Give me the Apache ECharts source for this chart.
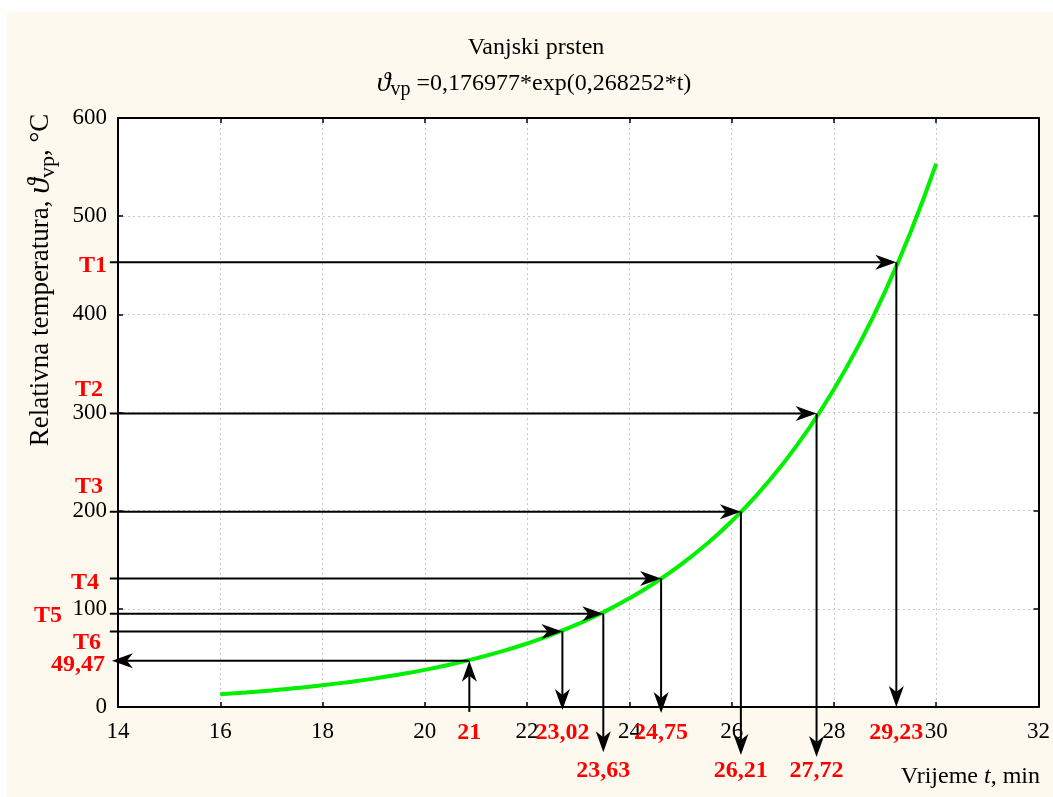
<!DOCTYPE html>
<html>
<head>
<meta charset="utf-8">
<script src="https://cdn.jsdelivr.net/npm/echarts@6/dist/echarts.min.js"></script>
<style>
  html, body { margin: 0; padding: 0; background: #fff; }
  #main { width: 1053px; height: 797px; }
</style>
</head>
<body>
<div id="main"></div>
<script>
const dom = document.getElementById('main');

// fitted curve
const curveTime = [16, 16.5, 17, 17.5, 18, 18.5, 19, 19.5, 20, 20.5, 21, 21.5, 22, 22.5,
  23, 23.5, 24, 24.5, 25, 25.5, 26, 26.5, 27, 27.5, 28, 28.5, 29, 29.5, 30];
const curveTemp = [12.9, 14.8, 16.9, 19.4, 22.1, 25.3, 28.9, 33.1, 37.8, 43.3, 49.5, 56.6, 64.7, 74.0,
  84.6, 96.8, 110.7, 126.6, 144.7, 165.5, 189.2, 216.4, 247.5, 283.0, 323.6, 370.1, 423.2, 483.9, 553.4];

// temperature levels T1..T6 and where they meet the curve
const levelNames = ['T1', 'T2', 'T3', 'T4', 'T5', 'T6'];
const levelTemps = [453, 299, 199, 131, 95, 77];
const levelTimes = [29.22, 27.66, 26.18, 24.62, 23.49, 22.69];
const levelTimeLabels = ['29,23', '27,72', '26,21', '24,75', '23,63', '23,02'];
const dropEnds = [0, -51, -49, -6, -46, -3];

// the reverse reading at t = 21
const readTime = 20.87;
const readTemp = 47;
const readTimeLabel = '21';
const readTempLabel = '49,47';
const readStart = -5;

const lineStart = 13.84;

// label layout: pixel offsets from anchors
const leftShift = [[-11, 3], [-15, -24], [-15, -25], [-19, 4], [-56, 2], [-17, 11]];
const bottomRow = [0, 1, 1, 0, 1, 0];

const FONT = 'Liberation Serif';

function arrowItem(params, api) {
  const p1 = api.coord([api.value(0), api.value(1)]);
  const p2 = api.coord([api.value(2), api.value(3)]);
  const ang = Math.atan2(p2[1] - p1[1], p2[0] - p1[0]);
  const c = Math.cos(ang), s = Math.sin(ang);
  const L = 21, W = 7.5, N = 6;
  const pt = (a, b) => [p2[0] + a * c - b * s, p2[1] + a * s + b * c];
  const back = pt(-L + N, 0);
  return {
    type: 'group',
    children: [
      {
        type: 'line',
        shape: { x1: p1[0], y1: p1[1], x2: back[0], y2: back[1] },
        style: { stroke: '#000', lineWidth: 2 }
      },
      {
        type: 'polygon',
        shape: { points: [pt(0, 0), pt(-L, W), back, pt(-L, -W)] },
        style: { fill: '#000' }
      }
    ]
  };
}

function labelItem(params, api) {
  const i = params.dataIndex;
  const p = api.coord([api.value(0), api.value(1)]);
  const lab = labels[i];
  return {
    type: 'text',
    x: p[0] + lab.dx,
    y: p[1] + lab.dy,
    style: {
      text: lab.text,
      font: 'bold 24px "' + FONT + '"',
      fill: '#ff0000',
      align: lab.align,
      verticalAlign: 'middle'
    }
  };
}

const arrows = [];
levelTemps.forEach((t, i) => {
  arrows.push([lineStart, t, levelTimes[i], t]);
  arrows.push([levelTimes[i], t, levelTimes[i], dropEnds[i]]);
});
arrows.push([readTime, readTemp, lineStart + 0.04, readTemp]);
arrows.push([readTime, readStart, readTime, readTemp]);

const labels = [];
const labelPos = [];
levelNames.forEach((n, i) => {
  labels.push({ text: n, dx: leftShift[i][0], dy: leftShift[i][1], align: 'right' });
  labelPos.push([14, levelTemps[i]]);
  labels.push({ text: levelTimeLabels[i], dx: 0, dy: bottomRow[i] ? 64 : 26, align: 'center' });
  labelPos.push([levelTimes[i], 0]);
});
labels.push({ text: readTempLabel, dx: -13, dy: 4, align: 'right' });
labelPos.push([14, readTemp]);
labels.push({ text: readTimeLabel, dx: 0, dy: 26, align: 'center' });
labelPos.push([readTime, 0]);

const axisCommon = {
  type: 'value',
  axisLine: { show: true, onZero: false, lineStyle: { color: '#000', width: 2 } },
  axisTick: { show: true, inside: true, length: 5, lineStyle: { color: '#000', width: 1.5 } },
  splitLine: { show: false }
};
const gridLine = { show: true, lineStyle: { color: '#c8c8c8', type: [2, 3], width: 1 } };

const myChart = echarts.init(dom);
myChart.setOption({
  backgroundColor: '#ffffff',
  animation: false,
  grid: {
    left: 118, top: 118, right: 11, bottom: 90,
    show: true, backgroundColor: '#ffffff', borderWidth: 0
  },
  xAxis: [
    Object.assign({}, axisCommon, {
      position: 'bottom', min: 14, max: 32, interval: 2,
      axisLabel: { fontFamily: FONT, fontSize: 23, color: '#000', margin: 13 },
      splitLine: gridLine
    }),
    Object.assign({}, axisCommon, {
      position: 'top', min: 14, max: 32, interval: 2, axisLabel: { show: false }
    })
  ],
  yAxis: [
    Object.assign({}, axisCommon, {
      position: 'left', min: 0, max: 600, interval: 100,
      axisLabel: { fontFamily: FONT, fontSize: 23, color: '#000', margin: 11 },
      splitLine: gridLine
    }),
    Object.assign({}, axisCommon, {
      position: 'right', min: 0, max: 600, interval: 100, axisLabel: { show: false }
    })
  ],
  series: [
    {
      type: 'line',
      data: curveTime.map((t, i) => [t, curveTemp[i]]),
      smooth: true,
      showSymbol: false,
      lineStyle: { color: '#00f000', width: 4 },
      z: 3
    },
    {
      type: 'custom',
      renderItem: arrowItem,
      data: arrows,
      encode: { x: [0, 2], y: [1, 3] },
      clip: false,
      z: 4
    },
    {
      type: 'custom',
      renderItem: labelItem,
      data: labelPos,
      encode: { x: 0, y: 1 },
      clip: false,
      z: 5
    }
  ],
  graphic: [
    {
      type: 'rect', z: -100,
      shape: { x: 7, y: 12, width: 1046, height: 785 },
      style: { fill: '#fdf9ee' }
    },
    {
      type: 'text', x: 536, y: 48,
      style: {
        text: 'Vanjski prsten', font: '24px "' + FONT + '"', fill: '#000',
        align: 'center', verticalAlign: 'middle'
      }
    },
    {
      type: 'text', x: 534, y: 84,
      style: {
        text: '{th|\u03D1}{sub|vp}{a| =0,176977*exp(0,268252*t)}',
        rich: {
          a: { fontFamily: FONT, fontSize: 24, color: '#000' },
          th: { fontFamily: FONT, fontSize: 28, fontStyle: 'italic', color: '#a8a8a8' },
          sub: { fontFamily: FONT, fontSize: 20, color: '#000', padding: [12, 0, 0, 0] }
        },
        align: 'center', verticalAlign: 'middle'
      }
    },
    {
      type: 'text', x: 41, y: 280, rotation: Math.PI / 2,
      style: {
        text: '{a|Relativna temperatura, }{th|\u03D1}{sub|vp}{a|, °C}',
        rich: {
          a: { fontFamily: FONT, fontSize: 27, color: '#000' },
          th: { fontFamily: FONT, fontSize: 32, fontStyle: 'italic', color: '#a8a8a8' },
          sub: { fontFamily: FONT, fontSize: 22, color: '#000', padding: [14, 0, 0, 0] }
        },
        align: 'center', verticalAlign: 'middle'
      }
    },
    {
      type: 'text', x: 1040, y: 777,
      style: {
        text: '{a|Vrijeme }{i|t}{a|, min}',
        rich: {
          a: { fontFamily: FONT, fontSize: 24, color: '#000' },
          i: { fontFamily: FONT, fontSize: 24, fontStyle: 'italic', color: '#000' }
        },
        align: 'right', verticalAlign: 'middle'
      }
    }
  ]
});
</script>
</body>
</html>
